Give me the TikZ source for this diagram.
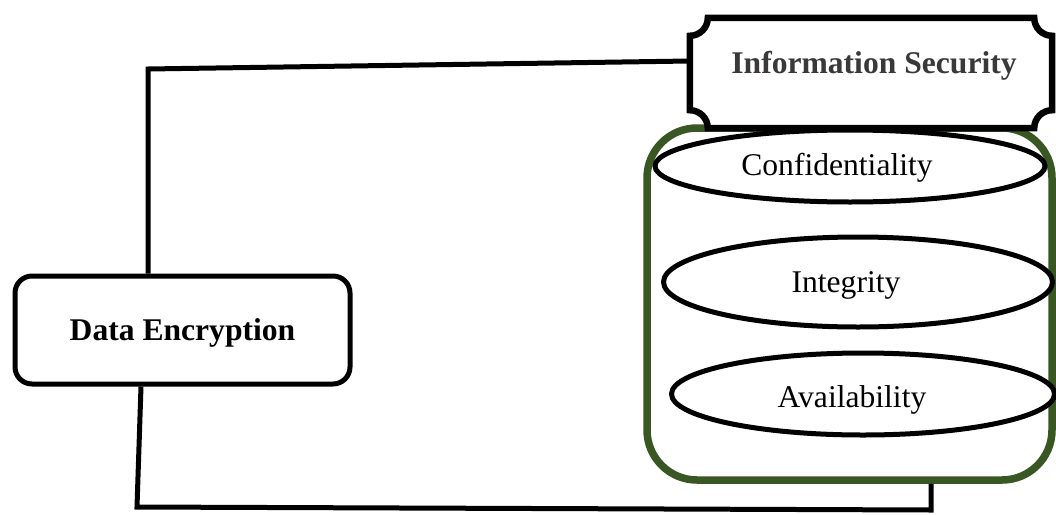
\documentclass[tikz,border=0pt]{standalone}
\usepackage{fontspec}
\setmainfont{Liberation Serif}
\usetikzlibrary{shapes.geometric}
\definecolor{ciagreen}{HTML}{385723}
\definecolor{titlegray}{HTML}{3B3838}
\tikzset{
  txt/.style={font=\fontsize{31.6pt}{38pt}\selectfont, inner sep=0pt},
  conn/.style={draw=black, line width=5pt},
  debox/.style={rectangle, draw=black, line width=5pt, rounded corners=17pt,
    minimum width=335pt, minimum height=108pt, inner sep=0pt, text depth=0pt,
    txt, font=\fontsize{31.6pt}{38pt}\selectfont\bfseries},
  ciabox/.style={rectangle, draw=ciagreen, line width=7.5pt, rounded corners=50pt,
    minimum width=405pt, minimum height=352pt, inner sep=0pt},
  pillar/.style={ellipse, draw=black, line width=5pt, fill=white, inner sep=0pt},
  plqbox/.style={rectangle, minimum width=362pt, minimum height=110pt, inner sep=0pt},
  plqline/.style={draw=black, line width=6.5pt, fill=white},
}
\begin{document}
\begin{tikzpicture}[x=1pt, y=-1pt]
\useasboundingbox (0,0) rectangle (1056,514);

% CIA container and its three pillars
\node[ciabox] (cia) at (849.5,304) {};
\node[pillar, minimum width=390pt, minimum height=72pt] (conf) at (850,166) {};
\node[pillar, minimum width=389pt, minimum height=90pt] (integ) at (858,282) {};
\node[pillar, minimum width=383pt, minimum height=82pt] (avail) at (863,394) {};
\node[txt, anchor=base] (conft) at (837,175) {Confidentiality};
\node[txt, anchor=base] (integt) at (846,292) {Integrity};
\node[txt, anchor=base] (availt) at (852,407) {Availability};

% plaque with concave corners
\node[plqbox] (plq) at (871,73) {};
\def\r{18pt}
\draw[plqline] ([xshift=\r]plq.north west) -- ([xshift=-\r]plq.north east)
  arc[start angle=180, end angle=270, radius=\r]
  -- ([yshift=\r]plq.south east)
  arc[start angle=90, end angle=180, radius=\r]
  -- ([xshift=\r]plq.south west)
  arc[start angle=0, end angle=90, radius=\r]
  -- ([yshift=-\r]plq.north west)
  arc[start angle=270, end angle=360, radius=\r] -- cycle;
\node[txt, anchor=base, text=titlegray, font=\fontsize{31.6pt}{38pt}\selectfont\bfseries]
  (sec) at (874,73) {Information Security};

% data encryption box
\node[debox] (de) at (182.5,330) {Data Encryption};

% connectors
\coordinate (topbend) at (148,69);
\coordinate (botbend) at (137,507);
\coordinate (rightbend) at (931,510);
\draw[conn] ([xshift=-34.5pt]de.north) -- (topbend) -- ([yshift=12pt]plq.west);
\draw[conn] ([xshift=-41.5pt]de.south) -- (botbend) -- (rightbend) -- ([xshift=81.5pt]cia.south);
\end{tikzpicture}
\end{document}
